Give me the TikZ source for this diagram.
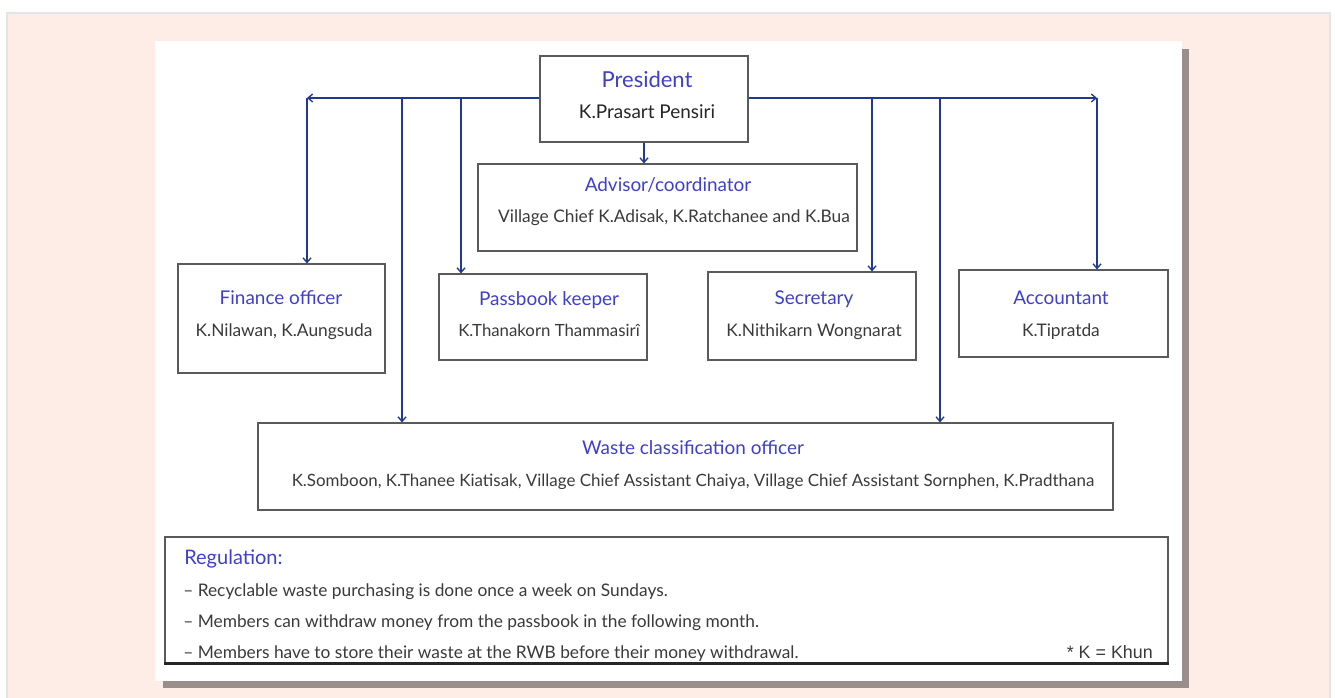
\documentclass[tikz,border=0pt]{standalone}
\usepackage{fontspec}
\setmainfont{Lato}
\newfontfamily\khunfont{Liberation Sans}
\usetikzlibrary{arrows.meta}
\definecolor{pinkbg}{HTML}{FDEDE6}
\definecolor{framegray}{HTML}{E4E4E8}
\definecolor{shadowgray}{HTML}{9A8E8C}
\definecolor{navy}{HTML}{1F3A8F}
\definecolor{titleblue}{HTML}{3F3FCC}
\definecolor{bodygray}{HTML}{3A3A3A}
\definecolor{boxgray}{HTML}{5A5A5A}
\begin{document}
\begin{tikzpicture}[x=0.75pt,y=-0.75pt,
  box/.style={draw=boxgray,line width=0.8pt,fill=white,inner sep=0pt,rectangle},
  ttl/.style={text=titleblue,font=\fontsize{14.2}{16}\selectfont,inner sep=0pt,text height=10.2pt,text depth=0pt},
  body/.style={text=bodygray,font=\fontsize{13}{15}\selectfont,inner sep=0pt,text height=9.3pt,text depth=0pt},
  conn/.style={draw=navy,line width=1.1pt},
  arr/.style={conn,-{Straight Barb[length=3.5pt,width=6pt,line width=1pt]}}]

\useasboundingbox (0,0) rectangle (1335,698);
\fill[white] (0,0) rectangle (1335,698);
\fill[framegray] (6,12) rectangle (1331,698);
\fill[pinkbg] (8,14) rectangle (1329,698);
\fill[shadowgray] (163,49) rectangle (1189,688);
\fill[white] (155,41) rectangle (1182,681);

% boxes
\node[box,minimum width=156pt,minimum height=64.5pt] (pres) at (644,99) {};
\node[box,minimum width=284.25pt,minimum height=65.25pt] (adv) at (667.5,207.5) {};
\node[box,minimum width=155.25pt,minimum height=81.75pt] (fin) at (281.5,318.5) {};
\node[box,minimum width=156pt,minimum height=64.5pt] (pass) at (543,317) {};
\node[box,minimum width=156pt,minimum height=66pt] (sec) at (812,316) {};
\node[box,minimum width=156.75pt,minimum height=65.25pt] (acc) at (1063.5,313.5) {};
\node[box,minimum width=641.25pt,minimum height=65.25pt] (waste) at (685.5,466.5) {};
\node[box,minimum width=752.25pt,minimum height=94.5pt] (reg) at (666.5,600) {};
\draw[line width=1.6pt,black!85] (reg.south west) -- (reg.south east);

% connectors
\coordinate (cL) at (307,98);
\coordinate (cR) at (1097,98);
\coordinate (b1) at (402,98);
\coordinate (b2) at (461,98);
\coordinate (b3) at (872,98);
\coordinate (b4) at (940,98);
\draw[arr] (pres.west |- cL) -- (cL);
\draw[arr] (pres.east |- cR) -- (cR);
\draw[arr] (cL) -- (cL |- fin.north);
\draw[arr] (cR) -- (cR |- acc.north);
\draw[arr] (b1) -- (b1 |- waste.north);
\draw[arr] (b2) -- (b2 |- pass.north);
\draw[arr] (b3) -- (b3 |- sec.north);
\draw[arr] (b4) -- (b4 |- waste.north);
\draw[arr] (pres.south) -- (pres.south |- adv.north);

% texts
\node[ttl,font=\fontsize{16.5}{18}\selectfont,text height=11.8pt] (presT) at (647,80) {President};
\node[body,text=black!85,font=\fontsize{14.2}{16}\selectfont,text height=10.2pt] (presN) at (647,112) {K.Prasart Pensiri};
\node[ttl] (advT) at (668,185) {Advisor/coordinator};
\node[body] (advN) at (674,216) {Village Chief K.Adisak, K.Ratchanee and K.Bua};
\node[ttl] (finT) at (281,298) {Finance officer};
\node[body] (finN) at (284,330) {K.Nilawan, K.Aungsuda};
\node[ttl] (passT) at (549,299) {Passbook keeper};
\node[body,font=\fontsize{12.6}{15}\selectfont] (passN) at (549,330) {K.Thanakorn Thammasirî};
\node[ttl] (secT) at (814,298) {Secretary};
\node[body] (secN) at (814,330) {K.Nithikarn Wongnarat};
\node[ttl] (accT) at (1061,298) {Accountant};
\node[body] (accN) at (1061,330) {K.Tipratda};
\node[ttl] (wasteT) at (693,448) {Waste classification officer};
\node[body,font=\fontsize{12.7}{15}\selectfont] (wasteN) at (693,480) {K.Somboon, K.Thanee Kiatisak, Village Chief Assistant Chaiya, Village Chief Assistant Sornphen, K.Pradthana};
\node[ttl,anchor=west,font=\fontsize{15}{17}\selectfont,text height=10.8pt] (regT) at (184,557) {Regulation:};
\node[body,anchor=west] (r1) at (183,590) {– Recyclable waste purchasing is done once a week on Sundays.};
\node[body,anchor=west] (r2) at (183,621) {– Members can withdraw money from the passbook in the following month.};
\node[body,anchor=west] (r3) at (183,652) {– Members have to store their waste at the RWB before their money withdrawal.};
\node[body,anchor=east,font=\khunfont\fontsize{13.4}{15}\selectfont] (khun) at (1153,652) {* K = Khun};
\end{tikzpicture}
\end{document}
